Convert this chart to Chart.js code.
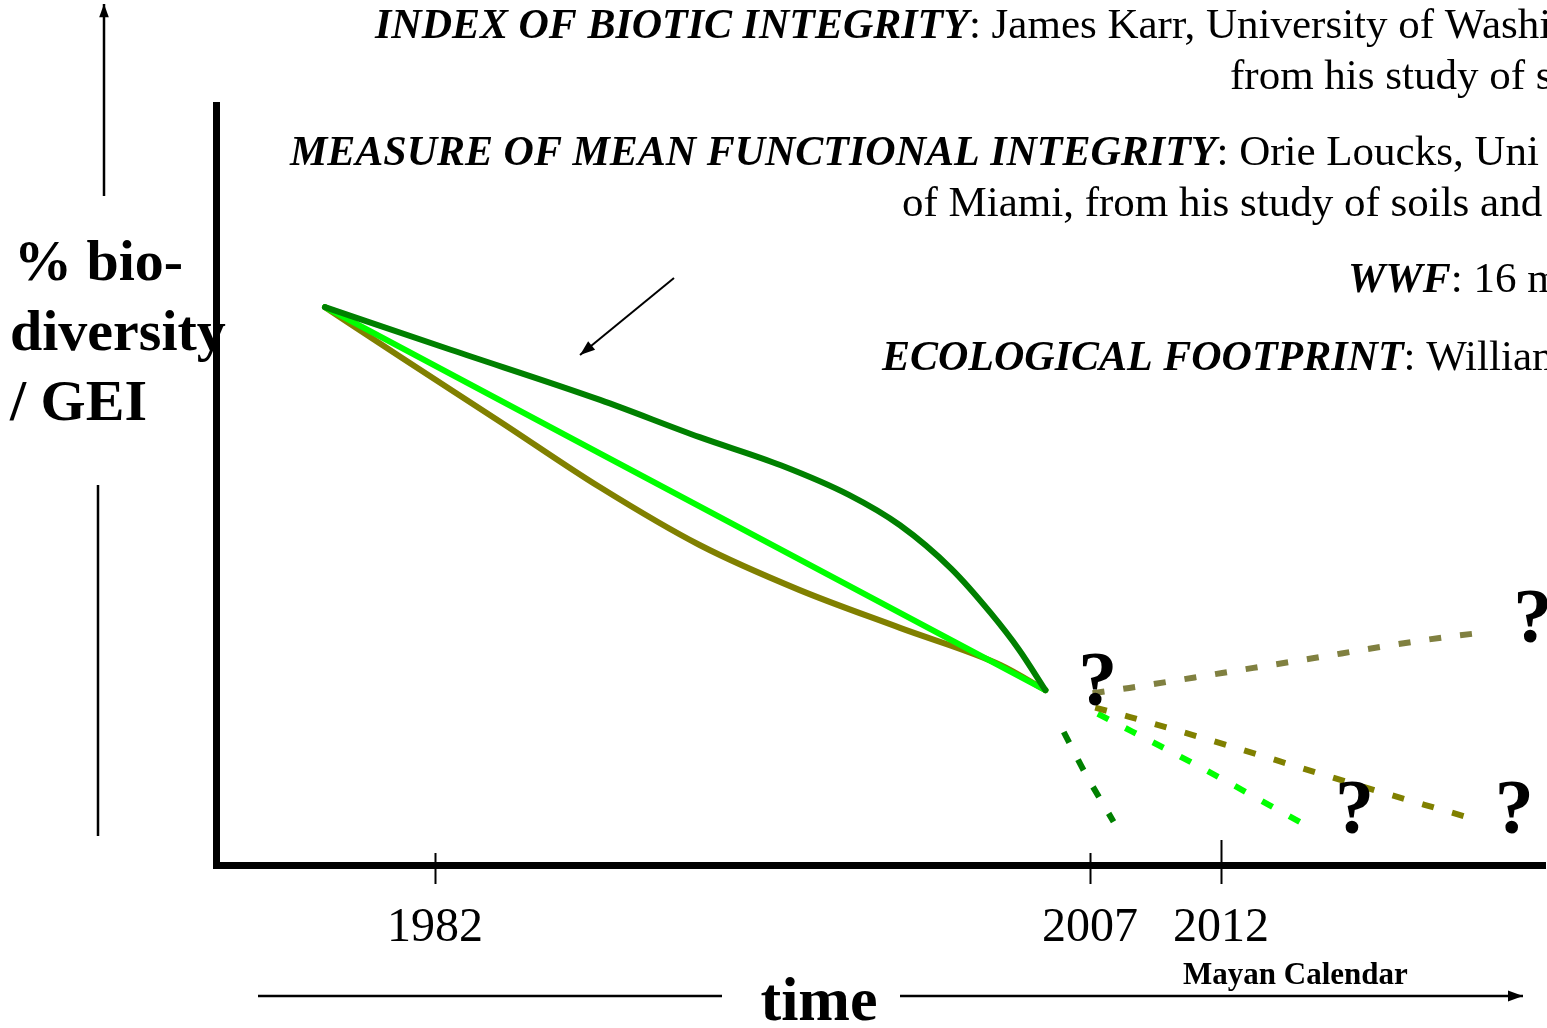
<!DOCTYPE html>
<html>
<head>
<meta charset="utf-8">
<script src="https://cdn.jsdelivr.net/npm/chart.js@4"></script>
<style>
  html, body { margin: 0; padding: 0; background: #fff; }
  canvas { display: block; }
</style>
</head>
<body>
<canvas id="graph" width="1547" height="1028"></canvas>
<script>
// 年（x）と指標（y, 0-100）
const tickYears = [1982, 2007, 2012];

const upperYears = [1977.8, 1982.6, 1988.3, 1992.1, 1995.2, 1997.8, 1999.75, 2001.7, 2003.2, 2004.3, 2005.3];
const upperValues = [73.4, 67.8, 61.2, 56.3, 52.6, 48.7, 44.7, 39.0, 33.2, 28.3, 23.0];

const straightYears = [1977.8, 2005.3];
const straightValues = [73.4, 23.0];

const lowerYears = [1977.8, 1980.7, 1984.5, 1988.3, 1992.1, 1995.9, 1999.75, 2003.6, 2005.3];
const lowerValues = [73.4, 66.8, 58.3, 49.7, 42.1, 36.2, 31.2, 26.3, 23.0];

// 2007年以降の予測（点線）
const riseYears = [2007.1, 2008.5, 2012.1, 2015.5, 2018.1, 2020.6, 2022.3];
const riseValues = [22.6, 23.3, 25.3, 27.2, 28.7, 30.0, 30.7];

const slowYears = [2007.2, 2008.5, 2012.2, 2015.7, 2018.1, 2020.5, 2021.8];
const slowValues = [20.7, 19.5, 15.8, 12.1, 9.6, 7.2, 5.9];

const fallYears = [2007.3, 2011.2, 2015.2];
const fallValues = [19.9, 12.9, 5.3];

const crashYears = [2006.0, 2006.8, 2007.9];
const crashValues = [17.5, 12.2, 5.7];

// ？の位置（年, 値）
const questionYears = [2007.3, 2023.9, 2017.1, 2023.2];
const questionValues = [21.0, 29.3, 4.2, 4.2];

const toPoints = (xs, ys) => xs.map((x, i) => ({ x: x, y: ys[i] }));

const serif = '"Liberation Serif", "DejaVu Serif", serif';

function arrow(ctx, x1, y1, x2, y2, head) {
    ctx.beginPath();
    ctx.moveTo(x1, y1);
    ctx.lineTo(x2, y2);
    ctx.stroke();
    if (head) {
        const a = Math.atan2(y2 - y1, x2 - x1);
        ctx.beginPath();
        ctx.moveTo(x2, y2);
        ctx.lineTo(x2 - head * Math.cos(a - 0.35), y2 - head * Math.sin(a - 0.35));
        ctx.lineTo(x2 - head * Math.cos(a + 0.35), y2 - head * Math.sin(a + 0.35));
        ctx.closePath();
        ctx.fill();
    }
}

function mixedLine(ctx, x, y, bold, plain) {
    ctx.font = 'italic bold 42px ' + serif;
    ctx.fillText(bold, x, y);
    const w = ctx.measureText(bold).width;
    ctx.font = '43px ' + serif;
    ctx.fillText(plain, x + w, y);
}

const decorations = {
    id: 'decorations',
    afterDraw(chart) {
        const ctx = chart.ctx;
        const xs = chart.scales.x;
        const ys = chart.scales.y;
        const bottom = chart.chartArea.bottom;
        ctx.save();
        ctx.fillStyle = '#000';
        ctx.strokeStyle = '#000';

        // 目盛り線
        ctx.lineWidth = 2;
        tickYears.forEach(yr => {
            const px = Math.round(xs.getPixelForValue(yr)) + 0.5;
            ctx.beginPath();
            ctx.moveTo(px, bottom - (yr === 2012 ? 25 : 12));
            ctx.lineTo(px, bottom + 19);
            ctx.stroke();
        });

        // ？
        ctx.font = 'bold 78px ' + serif;
        ctx.textAlign = 'center';
        ctx.textBaseline = 'alphabetic';
        questionYears.forEach((yr, i) => {
            ctx.fillText('?', xs.getPixelForValue(yr), ys.getPixelForValue(questionValues[i]));
        });

        // 縦軸ラベル
        ctx.textAlign = 'left';
        ctx.font = 'bold 58px ' + serif;
        ctx.fillText('% bio-', 14, 280);
        ctx.fillText('diversity', 10, 350);
        ctx.fillText('/ GEI', 10, 420);

        ctx.lineWidth = 2.5;
        arrow(ctx, 104, 196, 104, 4, 14);
        ctx.beginPath();
        ctx.moveTo(98, 485);
        ctx.lineTo(98, 836);
        ctx.stroke();

        // 横軸ラベル
        ctx.font = 'bold 62px ' + serif;
        ctx.textAlign = 'center';
        ctx.fillText('time', 819, 1020);
        ctx.font = 'bold 31px ' + serif;
        ctx.textAlign = 'left';
        ctx.fillText('Mayan Calendar', 1183, 984);
        ctx.lineWidth = 2.5;
        ctx.beginPath();
        ctx.moveTo(258, 996);
        ctx.lineTo(722, 996);
        ctx.stroke();
        arrow(ctx, 900, 996, 1523, 996, 16);

        // 注釈の矢印
        ctx.lineWidth = 2;
        arrow(ctx, 674, 278, 580, 355, 16);

        // 上の説明文
        ctx.textAlign = 'left';
        mixedLine(ctx, 375, 38, 'INDEX OF BIOTIC INTEGRITY', ': James Karr, University of Washi');
        ctx.font = '43px ' + serif;
        ctx.fillText('from his study of s', 1230, 89);
        mixedLine(ctx, 290, 165, 'MEASURE OF MEAN FUNCTIONAL INTEGRITY', ': Orie Loucks, Uni');
        ctx.font = '43px ' + serif;
        ctx.fillText('of Miami, from his study of soils and', 902, 216);
        mixedLine(ctx, 1348, 292, 'WWF', ': 16 m');
        mixedLine(ctx, 882, 370, 'ECOLOGICAL FOOTPRINT', ': William');

        ctx.restore();
    }
};

const solid = (label, xs, ys, color) => ({
    label: label,
    data: toPoints(xs, ys),
    borderColor: color,
    borderWidth: 6,
    pointRadius: 0,
    cubicInterpolationMode: 'monotone',
    borderCapStyle: 'round'
});

const dashed = (label, xs, ys, color) => ({
    label: label,
    data: toPoints(xs, ys),
    borderColor: color,
    borderWidth: 6,
    borderDash: [12, 19],
    pointRadius: 0,
    cubicInterpolationMode: 'monotone',
    borderCapStyle: 'butt'
});

const ctx = document.getElementById('graph').getContext('2d');

new Chart(ctx, {
    type: 'line',
    data: {
        datasets: [
            solid('upper', upperYears, upperValues, '#008000'),
            solid('straight', straightYears, straightValues, '#00ff00'),
            solid('lower', lowerYears, lowerValues, '#808000'),
            dashed('rise', riseYears, riseValues, '#808040'),
            dashed('slow', slowYears, slowValues, '#808000'),
            dashed('fall', fallYears, fallValues, '#00ff00'),
            dashed('crash', crashYears, crashValues, '#008000')
        ]
    },
    options: {
        responsive: false,
        animation: false,
        layout: {
            padding: { left: 216, right: 2, top: 105, bottom: 63 }
        },
        plugins: {
            legend: { display: false },
            tooltip: { enabled: false }
        },
        scales: {
            x: {
                type: 'linear',
                min: 1973.64,
                max: 2024.37,
                afterFit: scale => { scale.height = 100; },
                afterBuildTicks: scale => {
                    scale.ticks = tickYears.map(v => ({ value: v }));
                },
                grid: { display: false },
                border: { display: true, color: '#000', width: 7 },
                ticks: {
                    color: '#000',
                    font: { family: serif, size: 48 },
                    padding: 27,
                    maxRotation: 0,
                    autoSkip: false,
                    callback: v => String(v)
                }
            },
            y: {
                min: 0,
                max: 100,
                afterFit: scale => { scale.width = 0; },
                grid: { display: false },
                border: { display: true, color: '#000', width: 7 },
                ticks: { display: false }
            }
        }
    },
    plugins: [decorations]
});
</script>
</body>
</html>
